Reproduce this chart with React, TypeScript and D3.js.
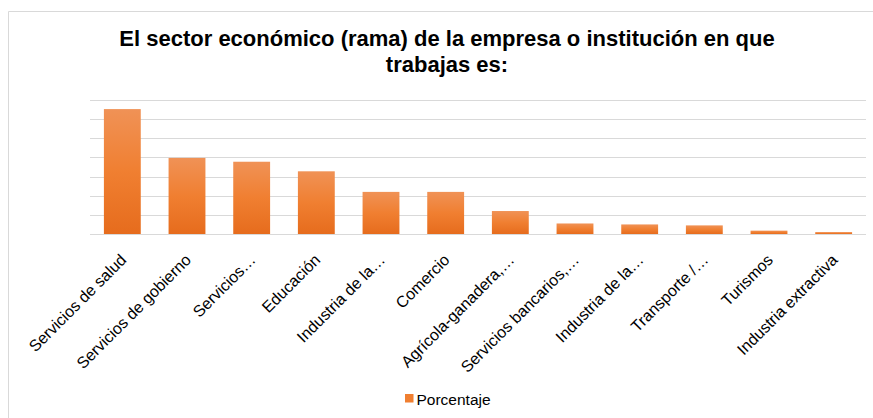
import React from "react";
import * as d3 from "d3";

const categories = [
  "Servicios de salud",
  "Servicios de gobierno",
  "Servicios…",
  "Educación",
  "Industria de la…",
  "Comercio",
  "Agrícola-ganadera,…",
  "Servicios bancarios,…",
  "Industria de la…",
  "Transporte /…",
  "Turismos",
  "Industria extractiva",
];
const values = [26.1, 15.9, 15.1, 13.1, 8.8, 8.8, 4.8, 2.2, 2.0, 1.8, 0.7, 0.4];
const gridTicks = [0, 4, 8, 12, 16, 20, 24, 28];
const titleLines = [
  "El sector económico (rama) de la empresa o institución en que",
  "trabajas es:",
];
const seriesName = "Porcentaje";

const W = 873;
const H = 418;
const FONT = "'Liberation Sans', Arial, sans-serif";

export default function App() {
  const x = d3.scaleBand<number>().domain(d3.range(categories.length)).range([90, 866]).paddingInner(0.43).paddingOuter(0.215);
  const y = d3.scaleLinear().domain([0, 28]).range([234, 100]);

  return (
    <svg width={W} height={H} style={{ position: "absolute", left: 0, top: 0 }} fontFamily={FONT}>
      <defs>
        <linearGradient id="barGrad" x1="0" y1="0" x2="0" y2="1">
          <stop offset="0" stopColor="#F09256" />
          <stop offset="0.5" stopColor="#F07F31" />
          <stop offset="1" stopColor="#E66C1D" />
        </linearGradient>
      </defs>
      <rect x={0} y={0} width={W} height={H} fill="#fff" />
      <line x1={8.5} y1={11.5} x2={W} y2={11.5} stroke="#D9D9D9" strokeWidth={1} />
      <line x1={8.5} y1={11.5} x2={8.5} y2={H} stroke="#D9D9D9" strokeWidth={1} />
      {titleLines.map((t, i) => (
        <text key={i} x={447} y={46 + i * 26} textAnchor="middle" fontSize={22} fontWeight="bold" fill="#000">
          {t}
        </text>
      ))}
      {gridTicks.map((t) => (
        <line key={t} x1={90} x2={866} y1={Math.round(y(t)) + 0.5} y2={Math.round(y(t)) + 0.5} stroke="#D9D9D9" strokeWidth={1.2} />
      ))}
      {values.map((v, i) => (
        <rect key={i} x={x(i)} y={y(v)} width={x.bandwidth()} height={y(0) - y(v)} fill="url(#barGrad)" />
      ))}
      {categories.map((c, i) => {
        const cx = (x(i) as number) + x.bandwidth() / 2 + 5;
        const cy = 261;
        return (
          <text key={i} transform={`translate(${cx},${cy}) rotate(-45)`} textAnchor="end" fontSize={16} fill="#000">
            {c}
          </text>
        );
      })}
      <rect x={405} y={394} width={8.5} height={8.5} fill="#F07F31" />
      <text x={416.5} y={404.5} fontSize={15.5} fill="#000">
        {seriesName}
      </text>
    </svg>
  );
}
